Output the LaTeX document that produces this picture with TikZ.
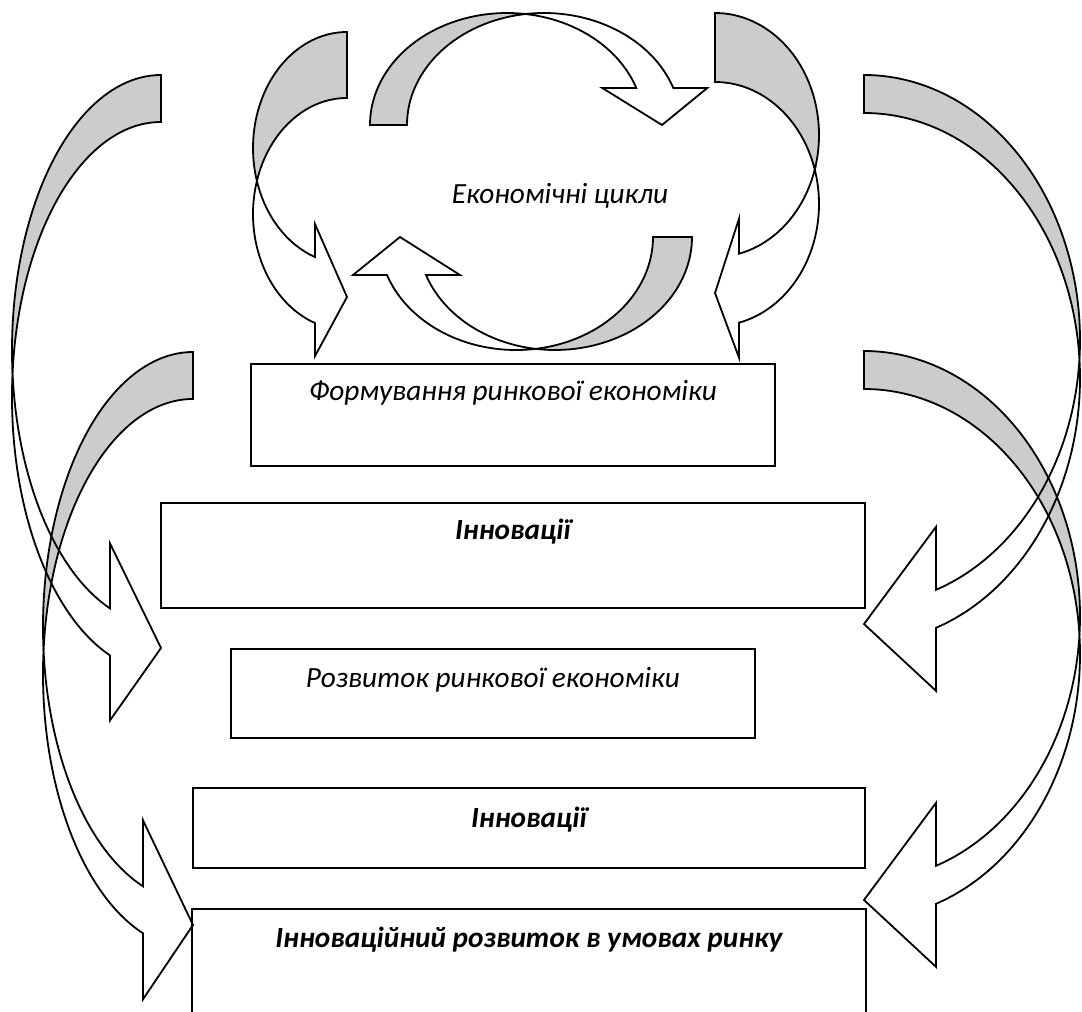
\documentclass[tikz,border=0pt]{standalone}
\usepackage{fontspec}
\setmainfont{Carlito}
\usetikzlibrary{positioning}
\definecolor{shade}{RGB}{204, 204, 204}

% curved ribbon arrow: #1 placement, #2/#3 radii, #4 width, #5 shoulder, #6 barb, #7 tip
\newcommand{\ribbonarrow}[7]{%
  \begin{scope}[#1]
    \pgfmathsetmacro{\ral}{asin(#4/(2*#3))}
    \pgfmathsetmacro{\rbe}{acos(-#5/#2)}
    \pgfmathsetmacro{\rsy}{#3*sin(\rbe)}
    \path[band] (0,-#3) arc[start angle=270, end angle={180-\ral}, x radius=#2, y radius=#3]
      arc[start angle={180+\ral}, end angle=270, x radius=#2, y radius=#3] -- cycle;
    \path[rib] ({-#2*cos(\ral)},{#4/2}) arc[start angle={180+\ral}, end angle=\rbe, x radius=#2, y radius=#3]
      -- (-#5,{#4+\rsy+#6}) -- (0,#7) -- (-#5,{\rsy-#6}) -- (-#5,\rsy)
      arc[start angle=\rbe, end angle={180-\ral}, x radius=#2, y radius=#3] -- cycle;
  \end{scope}}

\begin{document}
\begin{tikzpicture}[
  x=1pt, y=-1pt,
  box/.style={draw, line width=1.8pt, anchor=north west, inner sep=0pt},
  lbl/.style={font=\fontsize{29.3}{34}\selectfont\itshape, anchor=base},
  band/.style={draw, fill=shade, line width=1.8pt, line join=miter},
  rib/.style={draw, line width=1.8pt, line join=miter},
]
  \useasboundingbox (0,0) rectangle (1082,1012);

  % side arrows
  \ribbonarrow{shift={(193,627)}}{150}{275}{47}{50}{66}{298}
  \ribbonarrow{shift={(161,350)}}{149}{275}{47}{51}{65}{298}
  \ribbonarrow{shift={(864,616)}, xscale=-1}{216}{265}{38}{72}{63}{284}
  \ribbonarrow{shift={(864,340)}, xscale=-1}{216}{265}{38}{72}{63}{284}

  % cycle
  \ribbonarrow{shift={(347,148)}}{94}{116}{66}{32}{33}{149}
  \ribbonarrow{shift={(715,135)}, xscale=-1}{104}{122}{69}{24}{35}{158}
  \ribbonarrow{cm={0,-1,-1,0,(507,125)}}{112}{137}{37}{37}{34}{155}
  \ribbonarrow{cm={0,1,1,0,(555,237)}}{113}{137}{39}{38}{34}{155}
  \node[lbl] (cyc) at (560,203) {Економічні цикли};

  % boxes
  \node[box, minimum width=524pt, minimum height=102pt] (form) at (250,363) {};
  \node[lbl] (formtxt) at ([yshift=-37pt]form.north) {Формування ринкової економіки};
  \node[box, minimum width=704pt, minimum height=105pt] (inn1) at (160,502) {};
  \node[lbl] (inn1txt) at ([yshift=-37pt]inn1.north) {\bfseries Інновації};
  \node[box, minimum width=524pt, minimum height=89pt] (rozv) at (230,648) {};
  \node[lbl] (rozvtxt) at ([yshift=-39pt]rozv.north) {Розвиток ринкової економіки};
  \node[box, minimum width=672pt, minimum height=80pt] (inn2) at (192,787) {};
  \node[lbl] (inn2txt) at ([yshift=-40pt]inn2.north) {\bfseries Інновації};
  \node[box, draw=none, minimum width=672pt, minimum height=103pt] (fin) at (192,909) {};
  \draw[line width=1.8pt] (fin.south west) |- (fin.north east) -- (fin.south east);
  \node[lbl] (fintxt) at ([yshift=-38pt]fin.north) {\bfseries Інноваційний розвиток в умовах ринку};
\end{tikzpicture}
\end{document}
